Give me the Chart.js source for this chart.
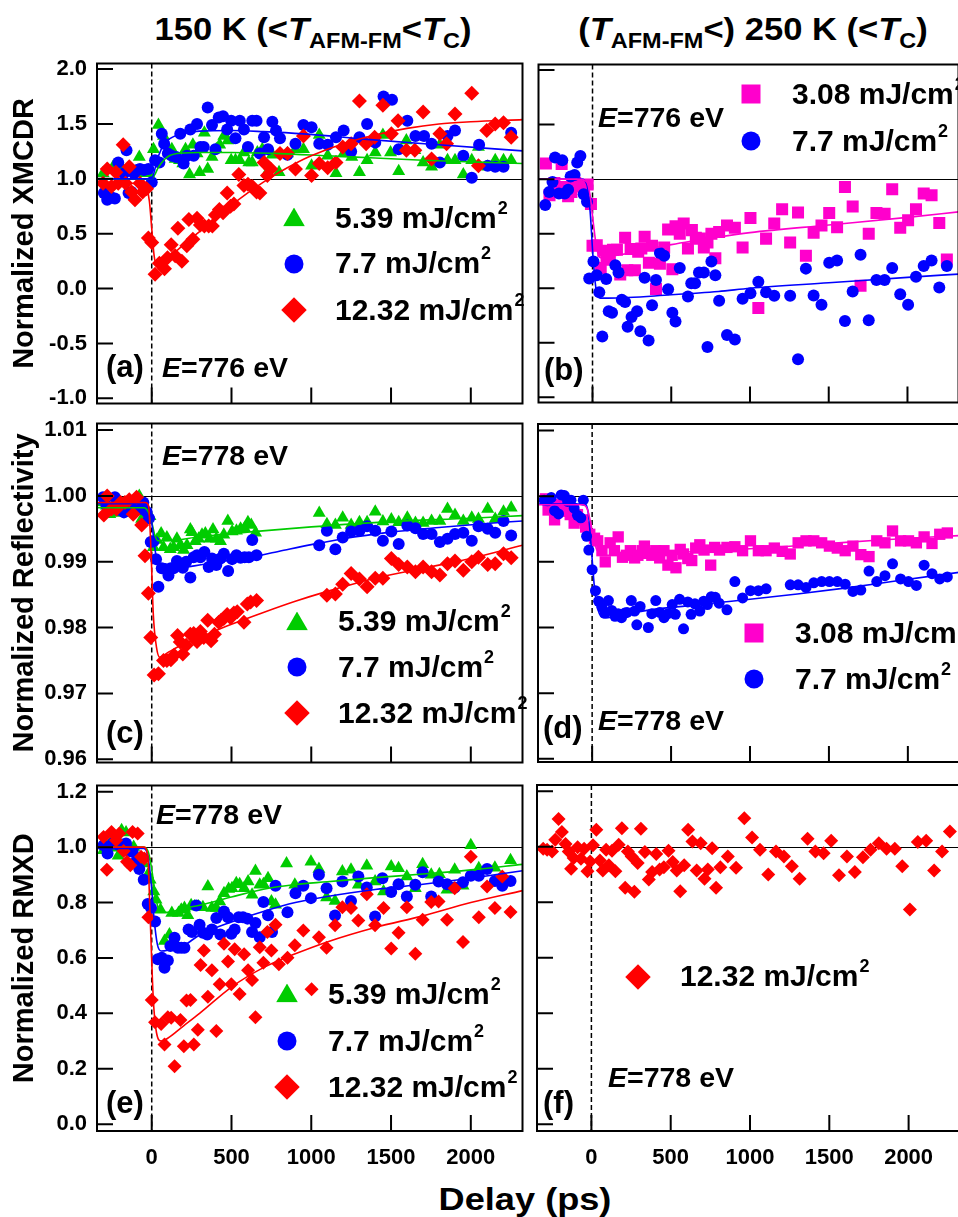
<!DOCTYPE html>
<html>
<head>
<meta charset="utf-8">
<script src="https://cdn.jsdelivr.net/npm/chart.js@4.4.1/dist/chart.umd.min.js"></script>
<style>
html, body { margin: 0; padding: 0; background: #fff; overflow: hidden; }
#wrap { position: relative; width: 958px; height: 1217px; overflow: hidden; background: #fff; }
canvas { position: absolute; }
.t { position: absolute; font-family: "Liberation Sans", Arial, sans-serif; font-weight: bold; color: #000;
     white-space: nowrap; line-height: 1; transform: translateY(-50%); }
.t sup { font-size: 0.6em; position: relative; top: -0.8em; vertical-align: baseline; line-height: 0; margin-left: 1px; }
.t sub { font-size: 0.68em; position: relative; top: 0.36em; vertical-align: baseline; line-height: 0; }
.leg { font-size: 30px; }
.en { font-size: 28.5px; }
.pl { font-size: 31px; }
.ttl { font-size: 32px; transform: translate(-50%, -50%) scaleX(1.08); }
.xt { font-size: 32px; transform: translate(-50%, -50%) scaleX(1.13); }
.mk { position: absolute; transform: translate(-50%, -50%); }
.tri { width: 22px; height: 19px; clip-path: polygon(50% 0, 100% 100%, 0 100%); }
.circ { width: 19px; height: 19px; border-radius: 50%; }
.sq { width: 19px; height: 19px; }
.dia { width: 18px; height: 18px; transform: translate(-50%, -50%) rotate(45deg); }
</style>
</head>
<body>
<div id="wrap">
  <canvas id="pa"></canvas><canvas id="pb"></canvas>
  <canvas id="pc"></canvas><canvas id="pd"></canvas>
  <canvas id="pe"></canvas><canvas id="pf"></canvas>

  <div class="t ttl" style="left:313px;top:29px">150 K (&lt;<i>T</i><sub>AFM-FM</sub>&lt;<i>T</i><sub>C</sub>)</div>
  <div class="t ttl" style="left:753px;top:29px">(<i>T</i><sub>AFM-FM</sub>&lt;) 250 K (&lt;<i>T</i><sub>C</sub>)</div>
  <div class="t xt" style="left:525px;top:1199px">Delay (ps)</div>

  <!-- (a) -->
  <div class="mk tri" style="left:294px;top:217px;background:#00cc00"></div>
  <div class="t leg" style="left:335px;top:218px">5.39 mJ/cm<sup>2</sup></div>
  <div class="mk circ" style="left:294px;top:264px;background:#0000ff"></div>
  <div class="t leg" style="left:335px;top:263px">7.7 mJ/cm<sup>2</sup></div>
  <div class="mk dia" style="left:294px;top:310px;background:#ff0000"></div>
  <div class="t leg" style="left:335px;top:310px">12.32 mJ/cm<sup>2</sup></div>
  <div class="t en" style="left:162px;top:367px"><i>E</i>=776 eV</div>
  <div class="t pl" style="left:106px;top:366px">(a)</div>

  <!-- (b) -->
  <div class="mk sq" style="left:751px;top:94px;background:#ff00cc"></div>
  <div class="t leg" style="left:792px;top:94px">3.08 mJ/cm<sup>2</sup></div>
  <div class="mk circ" style="left:751px;top:141px;background:#0000ff"></div>
  <div class="t leg" style="left:792px;top:141px">7.7 mJ/cm<sup>2</sup></div>
  <div class="t en" style="left:598px;top:117px"><i>E</i>=776 eV</div>
  <div class="t pl" style="left:544px;top:369px">(b)</div>

  <!-- (c) -->
  <div class="mk tri" style="left:297px;top:621px;background:#00cc00"></div>
  <div class="t leg" style="left:338px;top:621px">5.39 mJ/cm<sup>2</sup></div>
  <div class="mk circ" style="left:297px;top:667px;background:#0000ff"></div>
  <div class="t leg" style="left:338px;top:667px">7.7 mJ/cm<sup>2</sup></div>
  <div class="mk dia" style="left:297px;top:713px;background:#ff0000"></div>
  <div class="t leg" style="left:338px;top:713px">12.32 mJ/cm<sup>2</sup></div>
  <div class="t en" style="left:162px;top:455px"><i>E</i>=778 eV</div>
  <div class="t pl" style="left:106px;top:732px">(c)</div>

  <!-- (d) -->
  <div class="mk sq" style="left:754px;top:633px;background:#ff00cc"></div>
  <div class="t leg" style="left:795px;top:633px">3.08 mJ/cm<sup>2</sup></div>
  <div class="mk circ" style="left:754px;top:679px;background:#0000ff"></div>
  <div class="t leg" style="left:795px;top:679px">7.7 mJ/cm<sup>2</sup></div>
  <div class="t en" style="left:598px;top:720px"><i>E</i>=778 eV</div>
  <div class="t pl" style="left:543px;top:727px">(d)</div>

  <!-- (e) -->
  <div class="mk tri" style="left:287px;top:993px;background:#00cc00"></div>
  <div class="t leg" style="left:328px;top:994px">5.39 mJ/cm<sup>2</sup></div>
  <div class="mk circ" style="left:287px;top:1041px;background:#0000ff"></div>
  <div class="t leg" style="left:328px;top:1041px">7.7 mJ/cm<sup>2</sup></div>
  <div class="mk dia" style="left:287px;top:1087px;background:#ff0000"></div>
  <div class="t leg" style="left:328px;top:1087px">12.32 mJ/cm<sup>2</sup></div>
  <div class="t en" style="left:156px;top:814px"><i>E</i>=778 eV</div>
  <div class="t pl" style="left:106px;top:1102px">(e)</div>

  <!-- (f) -->
  <div class="mk dia" style="left:638px;top:977px;background:#ff0000"></div>
  <div class="t leg" style="left:680px;top:976px">12.32 mJ/cm<sup>2</sup></div>
  <div class="t en" style="left:608px;top:1077px"><i>E</i>=778 eV</div>
  <div class="t pl" style="left:543px;top:1102px">(f)</div>
</div>

<script>
/* === Axes === */
const X_MIN = -343, X_MAX = 2324;
const X_TICKS = [0, 500, 1000, 1500, 2000];
const Y_AB = [-1.047, 2.051];
const Y_TICKS_AB = [-1, -0.5, 0, 0.5, 1, 1.5, 2];
const Y_CD = [0.95951, 1.011];
const Y_TICKS_CD = [0.96, 0.97, 0.98, 0.99, 1.00, 1.01];
const Y_EF = [-0.0247, 1.2226];
const Y_TICKS_EF = [0, 0.2, 0.4, 0.6, 0.8, 1.0, 1.2];

/* === Colours === */
const GREEN = '#00cc00', BLUE = '#0000ff', RED = '#ff0000', PINK = '#ff00cc';

/* === (a) XMCDR, 150 K === */
const A_G = [[-305,1.05],[-273,1.08],[-242,1.11],[-221,1.11],[-179,1.08],[-147,1.08],[-120,1.06],[-78,1.20],[-53,1.05],[-21,1.05],[11,1.27],[42,1.49],[74,1.39],[105,1.26],[126,1.27],[147,1.18],[174,1.17],[195,1.14],[212,1.27],[237,1.04],[258,1.31],[284,1.23],[300,1.06],[330,1.42],[351,1.09],[378,1.20],[405,1.27],[426,1.31],[452,1.39],[477,1.35],[498,1.17],[525,1.17],[552,1.17],[578,1.24],[609,1.15],[630,1.15],[662,1.24],[693,1.27],[725,1.06],[756,1.22],[798,1.06],[851,1.23],[901,1.27],[951,1.27],[1002,1.12],[1050,1.40],[1103,1.21],[1155,1.05],[1203,1.23],[1254,1.20],[1302,1.06],[1350,1.17],[1401,1.24],[1449,1.40],[1497,1.24],[1548,1.07],[1596,1.35],[1649,1.26],[1701,1.15],[1754,1.11],[1806,1.31],[1854,1.17],[1901,1.17],[1953,1.04],[2006,1.17],[2048,1.29],[2106,1.11],[2153,1.17],[2205,1.17],[2253,1.17]];
const A_B = [[-300,0.87],[-279,0.81],[-252,0.83],[-231,0.82],[-210,1.15],[-174,1.05],[-158,1.26],[-145,0.87],[-126,0.88],[-111,1.05],[-90,1.08],[-74,1.09],[-48,1.08],[-21,1.09],[0,0.97],[21,1.17],[48,1.15],[63,1.41],[78,1.32],[101,1.23],[126,1.21],[153,1.20],[179,1.41],[200,1.14],[221,1.21],[242,1.45],[263,1.21],[284,1.50],[305,1.29],[326,1.29],[351,1.65],[378,1.49],[399,1.27],[420,1.56],[447,1.57],[473,1.45],[498,1.53],[525,1.37],[552,1.53],[578,1.45],[603,1.29],[630,1.53],[657,1.53],[678,1.23],[704,1.38],[729,1.27],[756,1.52],[779,1.44],[804,1.37],[851,1.22],[901,1.32],[951,1.49],[1002,1.47],[1050,1.32],[1103,1.31],[1155,1.38],[1203,1.44],[1250,1.25],[1302,1.38],[1350,1.50],[1401,1.33],[1453,1.75],[1506,1.72],[1548,1.27],[1602,1.53],[1653,1.39],[1707,1.39],[1754,1.32],[1806,1.15],[1854,1.39],[1901,1.44],[1953,1.21],[2006,1.01],[2052,1.31],[2106,1.12],[2153,1.11],[2205,1.11],[2253,1.42]];
const A_R = [[-305,0.96],[-279,1.09],[-252,0.93],[-225,1.06],[-210,0.96],[-179,1.31],[-164,0.96],[-141,1.11],[-126,0.88],[-105,0.81],[-74,0.96],[-57,0.88],[-32,0.91],[-21,0.46],[0,0.42],[21,0.13],[48,0.23],[80,0.18],[99,0.28],[122,0.40],[147,0.30],[164,0.55],[189,0.25],[220,0.39],[233,0.63],[258,0.45],[284,0.64],[305,0.58],[330,0.57],[357,0.57],[380,0.57],[399,0.67],[424,0.72],[447,0.69],[473,0.87],[494,0.75],[515,0.77],[546,1.04],[578,0.94],[603,0.95],[630,0.93],[657,0.88],[678,0.87],[704,1.15],[725,1.03],[746,1.09],[804,1.23],[851,1.23],[901,1.09],[951,1.39],[1002,1.03],[1050,1.14],[1103,1.10],[1155,1.15],[1197,1.29],[1250,1.32],[1302,1.71],[1344,1.32],[1397,1.38],[1449,1.67],[1502,1.41],[1544,1.53],[1596,1.26],[1649,1.26],[1701,1.61],[1754,1.18],[1806,1.41],[1848,1.32],[1901,1.59],[2006,1.78],[2048,1.12],[2100,1.44],[2153,1.50],[2205,1.51],[2253,1.38]];
const A_FG = [[-343,1.0],[0,1.0],[20,1.04],[40,1.1],[70,1.16],[110,1.21],[200,1.235],[300,1.24],[500,1.24],[800,1.23],[1100,1.21],[1400,1.19],[1700,1.17],[2000,1.155],[2324,1.14]];
const A_FB = [[-343,1.0],[0,1.0],[15,1.06],[30,1.15],[60,1.27],[100,1.35],[180,1.41],[300,1.435],[500,1.44],[700,1.43],[950,1.41],[1350,1.36],[1800,1.31],[2324,1.255]];
const A_FR = [[-343,0.97],[-150,0.96],[-40,0.93],[-15,0.8],[0,0.55],[15,0.3],[30,0.22],[60,0.22],[100,0.27],[200,0.40],[300,0.52],[400,0.64],[500,0.76],[600,0.87],[700,0.97],[800,1.06],[900,1.14],[1000,1.21],[1200,1.32],[1400,1.40],[1600,1.46],[1800,1.50],[2000,1.52],[2324,1.54]];

/* === (b) XMCDR, 250 K === */
const B_P = [[-296,1.144],[-273,0.853],[-242,0.964],[-221,0.892],[-196,1.138],[-176,0.928],[-155,0.844],[-134,0.883],[-110,0.964],[-89,0.934],[-62,0.943],[-31,0.952],[-10,0.772],[0,0.389],[27,0.395],[52,0.186],[68,0.344],[89,0.263],[110,0.263],[130,0.353],[155,0.353],[176,0.126],[207,0.464],[221,0.165],[242,0.359],[269,0.165],[290,0.335],[310,0.365],[331,0.473],[358,0.234],[378,0.389],[403,-0.006],[428,0.225],[455,0.374],[480,0.539],[507,0.174],[527,0.569],[554,0.5],[579,0.593],[606,0.365],[631,0.533],[656,0.464],[682,0.455],[707,0.374],[730,0.419],[755,0.5],[780,0.275],[804,0.515],[854,0.575],[904,0.554],[953,0.374],[1003,0.644],[1053,-0.18],[1102,0.455],[1154,0.593],[1204,0.725],[1255,0.419],[1305,0.695],[1355,0.299],[1404,0.509],[1454,0.575],[1503,0.689],[1553,0.56],[1603,0.928],[1652,0.749],[1702,0.024],[1754,0.5],[1803,0.689],[1855,0.683],[1903,0.907],[1954,0.554],[2004,0.623],[2054,0.725],[2103,0.868],[2153,0.853],[2202,0.599],[2250,0.263]];
const B_B = [[-300,0.763],[-275,0.883],[-254,0.973],[-238,1.198],[-213,0.868],[-192,1.174],[-176,0.868],[-155,0.904],[-139,1.024],[-114,1.039],[-97,1.153],[-77,1.213],[-56,0.862],[-35,0.793],[-21,0.09],[6,0.246],[27,0.12],[43,-0.036],[62,-0.443],[87,0.084],[103,-0.21],[124,-0.225],[145,0.21],[165,0.144],[186,-0.105],[207,-0.126],[223,-0.353],[248,-0.263],[283,-0.21],[304,-0.395],[331,0.096],[356,-0.479],[378,-0.156],[403,0.075],[428,0.323],[455,0.299],[480,-0.009],[507,-0.225],[527,-0.305],[554,0.186],[606,-0.075],[627,0.045],[651,0.045],[676,0.144],[707,0.144],[730,-0.539],[755,0.246],[780,0.12],[804,-0.114],[854,-0.428],[904,-0.47],[953,-0.096],[1003,-0.045],[1053,0.06],[1102,-0.036],[1154,-0.069],[1255,-0.069],[1305,-0.65],[1355,0.18],[1404,-0.066],[1454,-0.15],[1503,0.234],[1553,0.254],[1603,-0.299],[1652,-0.03],[1702,0.308],[1754,-0.293],[1803,0.075],[1855,0.075],[1903,0.186],[1954,-0.054],[2004,-0.15],[2054,0.105],[2103,0.204],[2153,0.254],[2202,0.006],[2250,0.204]];
const B_FP = [[-343,1.0],[-100,1.0],[-40,0.98],[-15,0.85],[5,0.6],[25,0.38],[50,0.28],[100,0.29],[300,0.34],[500,0.40],[800,0.47],[1000,0.51],[1500,0.58],[2000,0.65],[2324,0.70]];
const B_FB = [[-343,1.0],[-70,1.0],[-35,0.95],[-15,0.7],[5,0.25],[25,-0.03],[50,-0.09],[100,-0.09],[500,-0.06],[800,-0.03],[1000,0.0],[1500,0.05],[2000,0.1],[2324,0.13]];

/* === (c) Reflectivity, 150 K === */
const C_G = [[-305,0.9990],[-284,0.9985],[-263,0.9972],[-231,0.9974],[-200,0.9976],[-168,0.9986],[-137,0.9985],[-105,0.9991],[-78,1.0000],[-63,0.9965],[-36,0.9964],[-11,0.9969],[11,0.9922],[32,0.9933],[59,0.9943],[74,0.9922],[95,0.9937],[116,0.9919],[137,0.9922],[158,0.9935],[179,0.9925],[200,0.9918],[221,0.9925],[242,0.9949],[252,0.9945],[273,0.9931],[294,0.9935],[315,0.9941],[336,0.9943],[363,0.9935],[384,0.9949],[405,0.9935],[431,0.9931],[452,0.9941],[477,0.9962],[504,0.9946],[531,0.9947],[557,0.9950],[582,0.9951],[603,0.9960],[624,0.9956],[651,0.9944],[1050,0.9974],[1098,0.9957],[1151,0.9956],[1197,0.9967],[1250,0.9956],[1302,0.9960],[1350,0.9960],[1401,0.9976],[1449,0.9961],[1502,0.9964],[1548,0.9960],[1602,0.9967],[1653,0.9959],[1701,0.9959],[1754,0.9962],[1806,0.9962],[1854,0.9980],[1901,0.9971],[1953,0.9962],[2006,0.9967],[2048,0.9965],[2106,0.9980],[2153,0.9965],[2205,0.9976],[2253,0.9982]];
const C_B = [[-305,0.9998],[-284,0.9985],[-258,0.9980],[-231,0.9998],[-204,0.9979],[-174,0.9975],[-147,0.9985],[-120,0.9979],[-95,0.9985],[-74,0.9980],[-53,0.9990],[-32,0.9976],[-17,0.9966],[-6,0.9930],[11,0.9931],[27,0.9904],[42,0.9862],[63,0.9890],[84,0.9889],[105,0.9879],[120,0.9890],[137,0.9890],[158,0.9901],[179,0.9896],[195,0.9891],[216,0.9900],[242,0.9876],[263,0.9907],[284,0.9910],[305,0.9907],[330,0.9915],[357,0.9892],[378,0.9905],[405,0.9895],[431,0.9905],[452,0.9912],[479,0.9886],[504,0.9904],[531,0.9910],[557,0.9906],[582,0.9907],[609,0.9907],[630,0.9933],[657,0.9910],[1050,0.9925],[1098,0.9947],[1151,0.9919],[1197,0.9937],[1250,0.9946],[1302,0.9947],[1350,0.9954],[1401,0.9947],[1449,0.9932],[1502,0.9946],[1548,0.9927],[1602,0.9955],[1653,0.9951],[1701,0.9942],[1754,0.9942],[1806,0.9930],[1854,0.9935],[1901,0.9942],[1953,0.9944],[2006,0.9932],[2048,0.9954],[2106,0.9950],[2153,0.9944],[2205,0.9962],[2253,0.9940]];
const C_R = [[-300,0.9971],[-279,1.0000],[-252,0.9980],[-221,0.9980],[-195,0.9990],[-168,0.9990],[-141,0.9994],[-116,0.9972],[-95,0.9998],[-63,0.9956],[-42,0.9909],[-21,0.9852],[-6,0.9785],[15,0.9728],[42,0.9730],[74,0.9750],[95,0.9750],[120,0.9751],[141,0.9758],[162,0.9788],[179,0.9778],[195,0.9760],[216,0.9773],[242,0.9790],[263,0.9791],[284,0.9779],[305,0.9794],[326,0.9785],[351,0.9811],[372,0.9780],[393,0.9790],[420,0.9808],[435,0.9811],[452,0.9814],[473,0.9820],[494,0.9815],[515,0.9822],[536,0.9824],[578,0.9808],[599,0.9836],[620,0.9839],[657,0.9841],[1098,0.9849],[1151,0.9851],[1197,0.9866],[1250,0.9882],[1302,0.9874],[1350,0.9862],[1401,0.9875],[1449,0.9875],[1502,0.9905],[1548,0.9896],[1602,0.9892],[1653,0.9885],[1701,0.9892],[1754,0.9885],[1806,0.9880],[1854,0.9897],[1901,0.9901],[1953,0.9887],[2006,0.9900],[2048,0.9907],[2106,0.9896],[2153,0.9897],[2205,0.9912],[2253,0.9906]];
const C_FG = [[-343,0.9982],[-50,0.9982],[-20,0.9975],[0,0.996],[20,0.994],[40,0.9932],[100,0.9932],[300,0.9938],[600,0.9945],[1000,0.9953],[1500,0.9961],[2000,0.9966],[2324,0.997]];
const C_FB = [[-343,0.9988],[-40,0.9988],[-15,0.998],[0,0.996],[20,0.992],[40,0.9892],[60,0.9887],[100,0.9887],[200,0.9891],[400,0.9899],[600,0.9906],[800,0.9916],[1000,0.9926],[1200,0.9935],[1500,0.9945],[1800,0.9952],[2100,0.9958],[2324,0.9962]];
const C_FR = [[-343,0.999],[-40,0.999],[-20,0.9985],[-5,0.992],[10,0.982],[30,0.977],[50,0.9755],[100,0.9762],[200,0.9775],[300,0.9785],[500,0.9805],[700,0.9823],[900,0.984],[1100,0.9855],[1400,0.9875],[1700,0.989],[2000,0.9905],[2324,0.9925]];

/* === (d) Reflectivity, 250 K === */
const D_P = [[-296,0.9996],[-279,0.9979],[-259,0.9984],[-238,0.9964],[-213,0.9987],[-186,0.9977],[-165,0.9988],[-139,0.9972],[-114,0.9959],[-93,0.9972],[-62,0.9964],[-41,0.9953],[-15,0.9942],[15,0.9936],[35,0.9932],[62,0.9917],[83,0.9900],[114,0.9929],[141,0.9917],[165,0.9938],[192,0.9907],[217,0.9910],[242,0.9917],[269,0.9906],[290,0.9910],[316,0.9917],[331,0.9924],[352,0.9913],[378,0.9910],[403,0.9917],[428,0.9906],[455,0.9917],[480,0.9895],[507,0.9910],[531,0.9891],[558,0.9919],[579,0.9912],[606,0.9905],[631,0.9902],[656,0.9921],[682,0.9926],[709,0.9918],[751,0.9895],[776,0.9922],[807,0.9918],[854,0.9922],[904,0.9923],[953,0.9917],[1003,0.9932],[1053,0.9917],[1102,0.9917],[1154,0.9921],[1204,0.9916],[1255,0.9912],[1305,0.9929],[1355,0.9932],[1404,0.9932],[1454,0.9929],[1503,0.9924],[1553,0.9921],[1603,0.9917],[1652,0.9924],[1702,0.9911],[1754,0.9908],[1803,0.9932],[1855,0.9929],[1903,0.9947],[1954,0.9932],[2004,0.9932],[2054,0.9929],[2103,0.9938],[2153,0.9928],[2202,0.9942],[2250,0.9944]];
const D_B = [[-304,0.9994],[-283,0.9993],[-259,0.9998],[-238,0.9978],[-213,0.9973],[-196,1.0002],[-176,1.0001],[-155,0.9992],[-134,0.9994],[-114,0.9982],[-93,0.9971],[-72,0.9967],[-56,0.9994],[-35,0.9939],[-21,0.9918],[0,0.9888],[21,0.9856],[41,0.9840],[62,0.9831],[83,0.9822],[103,0.9841],[124,0.9826],[145,0.9817],[165,0.9821],[186,0.9815],[207,0.9822],[221,0.9823],[248,0.9841],[269,0.9825],[283,0.9804],[304,0.9832],[356,0.9800],[378,0.9821],[403,0.9841],[428,0.9823],[455,0.9815],[480,0.9821],[507,0.9835],[527,0.9820],[554,0.9843],[579,0.9798],[606,0.9839],[627,0.9820],[651,0.9836],[682,0.9825],[707,0.9840],[730,0.9835],[755,0.9847],[780,0.9846],[804,0.9837],[854,0.9827],[904,0.9870],[953,0.9845],[1003,0.9856],[1053,0.9856],[1102,0.9859],[1255,0.9865],[1305,0.9865],[1355,0.9861],[1404,0.9868],[1454,0.9870],[1503,0.9870],[1553,0.9870],[1603,0.9866],[1652,0.9855],[1702,0.9857],[1754,0.9886],[1803,0.9870],[1855,0.9879],[1903,0.9897],[1954,0.9874],[2004,0.9870],[2054,0.9864],[2103,0.9895],[2153,0.9882],[2202,0.9874],[2250,0.9877]];
const D_FP = [[-343,0.9987],[-60,0.9987],[-30,0.998],[-10,0.996],[10,0.9935],[30,0.9918],[60,0.9911],[100,0.991],[300,0.9912],[600,0.9915],[1000,0.992],[1400,0.9926],[1800,0.9933],[2324,0.994]];
const D_FB = [[-343,0.9988],[-50,0.9988],[-25,0.9975],[-5,0.992],[15,0.986],[40,0.9825],[70,0.9815],[100,0.9815],[200,0.982],[400,0.9828],[600,0.9833],[800,0.9838],[1000,0.9843],[1300,0.9851],[1600,0.986],[1900,0.987],[2324,0.9884]];

/* === (e) RMXD, 150 K === */
const E_G = [[-302,0.989],[-277,1.001],[-252,1.022],[-224,0.998],[-210,0.969],[-189,1.061],[-161,1.053],[-140,0.989],[-113,1.001],[-88,0.959],[-67,0.950],[-50,0.941],[-25,0.900],[-10,0.882],[13,0.840],[27,0.810],[55,0.774],[80,0.661],[111,0.685],[126,0.762],[143,0.661],[168,0.762],[185,0.774],[205,0.780],[226,0.754],[247,0.790],[268,0.786],[293,0.786],[321,0.783],[352,0.858],[377,0.780],[405,0.780],[426,0.804],[453,0.834],[482,0.849],[503,0.852],[530,0.870],[551,0.866],[579,0.852],[604,0.876],[629,0.828],[650,0.914],[677,0.864],[700,0.866],[729,0.888],[750,0.804],[776,0.792],[845,0.941],[897,0.864],[998,0.947],[1048,0.921],[1096,0.818],[1149,0.806],[1195,0.912],[1249,0.918],[1295,0.864],[1348,0.933],[1400,0.876],[1453,0.840],[1501,0.930],[1547,0.924],[1599,0.894],[1652,0.852],[1698,0.938],[1752,0.900],[1803,0.902],[1851,0.846],[1899,0.918],[1951,0.861],[2000,1.007],[2050,0.924],[2151,0.926],[2249,0.953]];
const E_B = [[-302,1.007],[-277,0.977],[-245,1.013],[-214,1.010],[-189,1.010],[-161,1.013],[-140,0.986],[-120,0.983],[-99,0.947],[-78,0.921],[-50,0.882],[-25,0.795],[-4,0.780],[21,0.732],[38,0.595],[63,0.601],[80,0.565],[101,0.591],[117,0.643],[143,0.673],[164,0.637],[185,0.637],[205,0.637],[231,0.703],[252,0.694],[279,0.789],[300,0.720],[321,0.691],[348,0.685],[377,0.703],[405,0.744],[430,0.685],[453,0.768],[478,0.747],[499,0.687],[520,0.703],[545,0.747],[572,0.747],[600,0.742],[629,0.694],[650,0.726],[677,0.675],[700,0.802],[729,0.754],[754,0.694],[776,0.861],[851,0.765],[901,0.834],[950,0.861],[998,0.816],[1048,0.900],[1096,0.852],[1149,0.753],[1195,0.876],[1249,0.806],[1295,0.894],[1348,0.854],[1400,0.750],[1446,0.888],[1501,0.838],[1547,0.866],[1599,0.822],[1652,0.864],[1698,0.909],[1752,0.822],[1798,0.876],[1851,0.866],[1899,0.854],[1951,0.873],[2000,0.897],[2050,0.897],[2102,0.921],[2151,0.878],[2197,0.861],[2249,0.878]];
const E_R = [[-302,1.037],[-281,0.918],[-252,1.055],[-224,1.025],[-203,1.049],[-176,0.986],[-155,0.947],[-134,0.935],[-120,1.055],[-88,1.049],[-67,0.965],[-46,0.959],[-21,0.747],[0,0.448],[21,0.368],[59,0.362],[80,0.288],[101,0.386],[122,0.384],[143,0.209],[180,0.376],[201,0.281],[218,0.446],[243,0.448],[264,0.288],[289,0.341],[306,0.575],[327,0.627],[352,0.460],[377,0.556],[405,0.336],[426,0.505],[453,0.651],[478,0.587],[499,0.505],[520,0.631],[551,0.470],[579,0.613],[604,0.556],[629,0.520],[650,0.386],[677,0.639],[700,0.583],[725,0.694],[750,0.627],[776,0.720],[797,0.577],[851,0.601],[897,0.646],[950,0.699],[1002,0.487],[1048,0.675],[1096,0.637],[1149,0.718],[1195,0.783],[1249,0.780],[1295,0.735],[1348,0.830],[1400,0.718],[1453,0.780],[1501,0.634],[1547,0.691],[1599,0.783],[1652,0.615],[1698,0.738],[1752,0.802],[1798,0.804],[1851,0.738],[1899,0.852],[1951,0.658],[2000,0.965],[2050,0.747],[2102,0.858],[2151,0.780],[2197,0.894],[2249,0.766]];
const E_FG = [[-343,1.0],[-50,1.0],[-20,0.98],[0,0.92],[20,0.84],[40,0.78],[60,0.765],[100,0.765],[200,0.78],[300,0.79],[500,0.82],[700,0.848],[900,0.865],[1100,0.875],[1400,0.89],[1700,0.903],[2000,0.918],[2324,0.938]];
const E_FB = [[-343,0.995],[-50,0.995],[-25,0.97],[-5,0.88],[15,0.74],[35,0.65],[60,0.625],[100,0.628],[200,0.645],[300,0.683],[500,0.73],[700,0.768],[900,0.8],[1100,0.822],[1400,0.847],[1700,0.866],[2000,0.888],[2324,0.915]];
const E_FR = [[-343,1.0],[-50,1.0],[-25,0.97],[-10,0.75],[10,0.45],[30,0.33],[60,0.3],[100,0.31],[200,0.355],[300,0.4],[500,0.495],[700,0.565],[900,0.615],[1100,0.658],[1400,0.71],[1700,0.752],[2000,0.8],[2324,0.843]];

/* === (f) RMXD, 250 K === */
const F_R = [[-304,0.993],[-279,0.989],[-248,0.983],[-228,1.025],[-207,1.100],[-186,1.053],[-163,1.010],[-143,0.983],[-128,0.921],[-112,0.959],[-87,0.998],[-66,0.957],[-46,0.993],[-25,0.912],[-8,0.947],[10,1.005],[31,1.061],[54,0.950],[72,0.914],[93,0.989],[110,0.933],[130,0.986],[151,0.912],[172,1.007],[192,1.067],[213,0.852],[230,0.983],[254,0.965],[271,0.838],[292,0.941],[312,1.065],[337,0.981],[362,0.882],[383,0.909],[409,0.974],[430,0.918],[457,0.926],[486,0.986],[513,0.945],[538,0.914],[560,0.840],[585,0.933],[610,1.061],[637,1.019],[664,0.914],[689,1.013],[713,0.885],[734,0.918],[761,0.995],[786,0.852],[813,0.926],[860,0.965],[912,0.924],[964,1.103],[1013,1.033],[1063,0.989],[1115,0.900],[1164,0.983],[1214,0.965],[1264,0.930],[1313,0.885],[1363,1.029],[1412,0.983],[1464,0.977],[1512,1.022],[1561,0.897],[1611,0.965],[1661,0.909],[1712,0.962],[1760,0.989],[1812,1.013],[1861,0.993],[1913,0.993],[1960,0.930],[2008,0.774],[2058,1.017],[2111,1.022],[2161,0.914],[2211,0.983],[2260,1.055]];

/* === Helpers === */
const FONT = '"Liberation Sans", Arial, sans-serif';
const pts = arr => arr.map(([x, y]) => ({ x, y }));

function marks(data, color, style, r, order) {
  return { type: 'scatter', data: pts(data), backgroundColor: color, borderColor: color, borderWidth: 0,
           pointStyle: style, pointRadius: r, pointHoverRadius: r, order };
}
function fit(data, color) {
  return { type: 'line', data: pts(data), borderColor: color, borderWidth: 1.6, pointRadius: 0,
           fill: false, cubicInterpolationMode: 'monotone', order: 0 };
}

// ref lines, inner ticks and the frame
const frame = {
  id: 'frame',
  beforeDatasetsDraw(chart) {
    const { ctx, chartArea: a, scales: { x, y } } = chart;
    ctx.save();
    ctx.strokeStyle = '#000';
    ctx.lineWidth = 1;
    const y1 = Math.round(y.getPixelForValue(1)) + 0.5;
    ctx.beginPath(); ctx.moveTo(a.left, y1); ctx.lineTo(a.right, y1); ctx.stroke();
    ctx.setLineDash([5, 3]);
    ctx.lineWidth = 1.5;
    const x0 = x.getPixelForValue(0);
    ctx.beginPath(); ctx.moveTo(x0, a.top); ctx.lineTo(x0, a.bottom); ctx.stroke();
    ctx.restore();
  },
  afterDatasetsDraw(chart) {
    const { ctx, chartArea: a, scales: { x, y } } = chart;
    ctx.save();
    ctx.strokeStyle = '#000';
    ctx.lineWidth = 2;
    ctx.beginPath();
    x.ticks.forEach(t => {
      const px = x.getPixelForValue(t.value);
      ctx.moveTo(px, a.bottom); ctx.lineTo(px, a.bottom - 16);
    });
    y.ticks.forEach(t => {
      const py = y.getPixelForValue(t.value);
      ctx.moveTo(a.left, py); ctx.lineTo(a.left + 16, py);
    });
    ctx.stroke();
    ctx.strokeRect(a.left, a.top, a.right - a.left, a.bottom - a.top);
    ctx.restore();
  }
};

function panel(id, box, yr, yTicks, dec, xLabels, yTitle, datasets) {
  const cv = document.getElementById(id);
  cv.width = box.w; cv.height = box.h;
  cv.style.left = box.l + 'px'; cv.style.top = box.t + 'px';
  new Chart(cv, {
    type: 'scatter',
    data: { datasets },
    options: {
      responsive: false,
      animation: false,
      events: [],
      layout: { padding: { top: 5, right: box.pr, left: 0, bottom: 0 } },
      plugins: { legend: { display: false }, tooltip: { enabled: false } },
      scales: {
        x: {
          type: 'linear', min: X_MIN, max: X_MAX,
          afterBuildTicks: s => { s.ticks = X_TICKS.map(v => ({ value: v })); },
          afterFit: s => { s.height = box.hx; s.paddingLeft = 0; s.paddingRight = 0; },
          grid: { display: false, drawTicks: false },
          border: { display: false },
          ticks: { display: xLabels, color: '#000', padding: 14, maxRotation: 0, autoSkip: false,
                   font: { family: FONT, size: 22, weight: 'bold' }, callback: v => String(v) }
        },
        y: {
          type: 'linear', min: yr[0], max: yr[1],
          afterBuildTicks: s => { s.ticks = yTicks.map(v => ({ value: v })); },
          afterFit: s => { s.width = box.wy; s.paddingTop = 0; s.paddingBottom = 0; },
          grid: { display: false, drawTicks: false },
          border: { display: false },
          ticks: { display: !!yTitle, color: '#000', padding: 10, autoSkip: false,
                   font: { family: FONT, size: 22, weight: 'bold' }, callback: v => v.toFixed(dec) },
          title: { display: !!yTitle, text: yTitle || '', color: '#000', padding: { top: 8, bottom: 0 },
                   font: { family: FONT, size: 29, weight: 'bold' } }
        }
      }
    },
    plugins: [frame]
  });
}

/* === Layout === */
const L = { l: 0, w: 530, wy: 97, pr: 3 };
const R = { l: 530, w: 437, wy: 7, pr: 0 };
const ROW1 = { t: 56, h: 355, hx: 4 };
const ROW2 = { t: 416, h: 354, hx: 4 };
const ROW3 = { t: 778, h: 398, hx: 45 };

panel('pa', { ...L, ...ROW1 }, Y_AB, Y_TICKS_AB, 1, false, 'Normalized XMCDR', [
  fit(A_FR, RED), fit(A_FB, BLUE), fit(A_FG, GREEN),
  marks(A_R, RED, 'rectRot', 7.5, 1), marks(A_B, BLUE, 'circle', 6, 2), marks(A_G, GREEN, 'triangle', 7.5, 3)
]);
panel('pb', { ...R, ...ROW1 }, Y_AB, Y_TICKS_AB, 1, false, null, [
  fit(B_FP, PINK), fit(B_FB, BLUE),
  marks(B_B, BLUE, 'circle', 6, 1), marks(B_P, PINK, 'rect', 8.5, 2)
]);
panel('pc', { ...L, ...ROW2 }, Y_CD, Y_TICKS_CD, 2, false, 'Normalized Reflectivity', [
  fit(C_FR, RED), fit(C_FB, BLUE), fit(C_FG, GREEN),
  marks(C_R, RED, 'rectRot', 7.5, 1), marks(C_B, BLUE, 'circle', 6, 2), marks(C_G, GREEN, 'triangle', 7.5, 3)
]);
panel('pd', { ...R, ...ROW2 }, Y_CD, Y_TICKS_CD, 2, false, null, [
  fit(D_FP, PINK), fit(D_FB, BLUE),
  marks(D_B, BLUE, 'circle', 5.5, 1), marks(D_P, PINK, 'rect', 8, 2)
]);
panel('pe', { ...L, ...ROW3 }, Y_EF, Y_TICKS_EF, 1, true, 'Normalized RMXD', [
  fit(E_FR, RED), fit(E_FB, BLUE), fit(E_FG, GREEN),
  marks(E_R, RED, 'rectRot', 7, 1), marks(E_B, BLUE, 'circle', 6, 2), marks(E_G, GREEN, 'triangle', 7.5, 3)
]);
panel('pf', { ...R, ...ROW3 }, Y_EF, Y_TICKS_EF, 1, true, null, [
  marks(F_R, RED, 'rectRot', 7, 1)
]);
</script>
</body>
</html>
